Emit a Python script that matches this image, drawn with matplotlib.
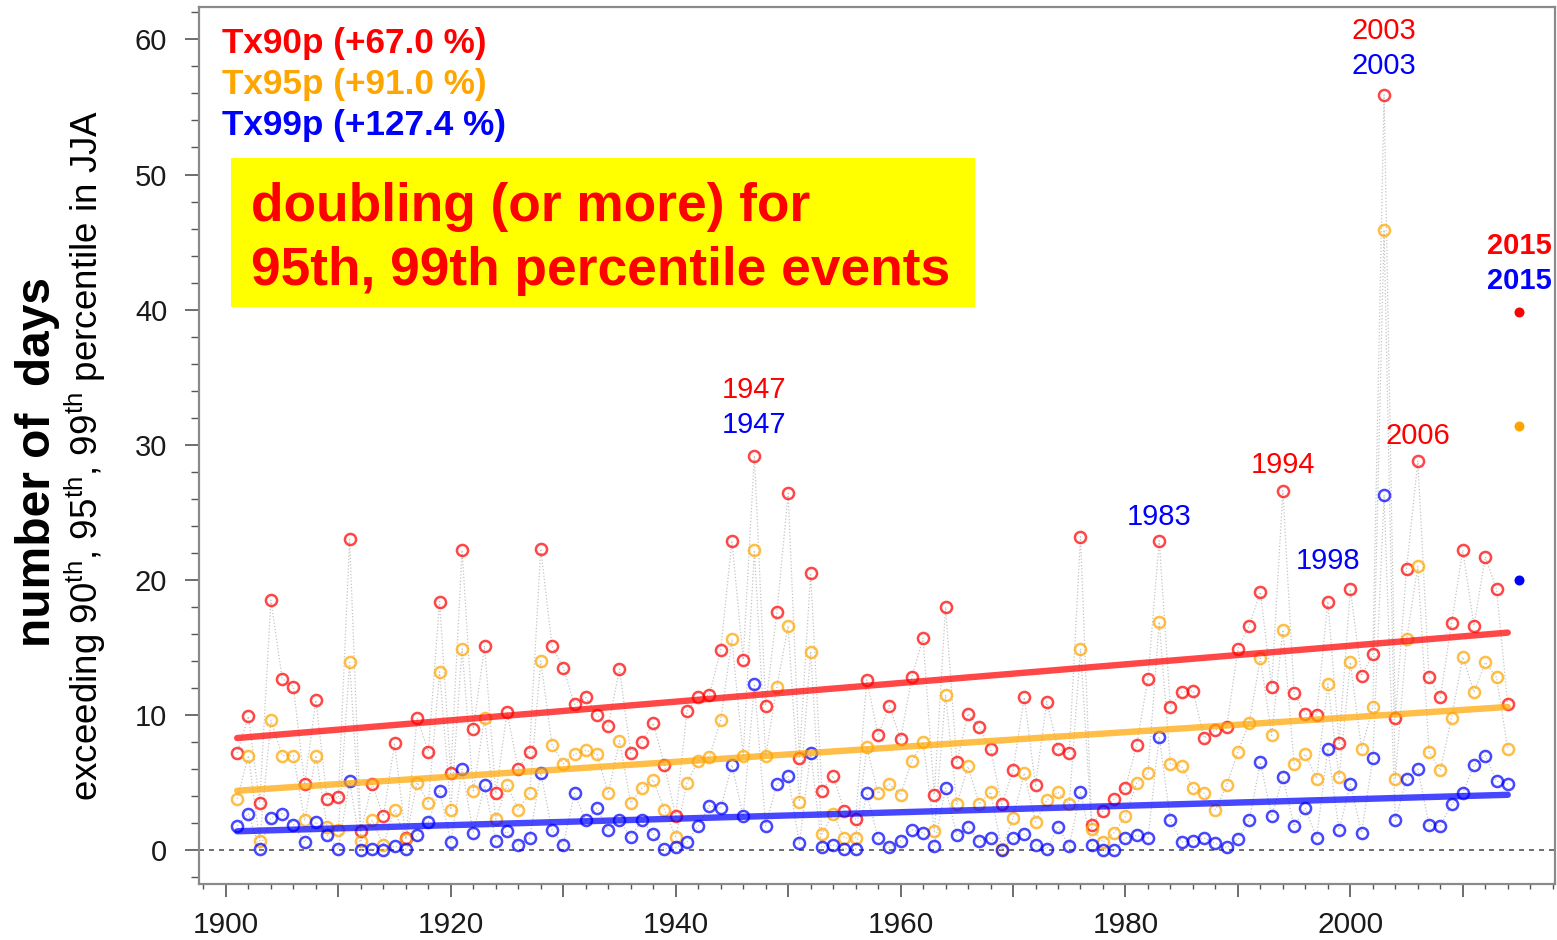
import matplotlib
matplotlib.use('Agg')
import matplotlib.pyplot as plt
from matplotlib.patches import Rectangle
from matplotlib.ticker import MultipleLocator
import numpy as np

plt.rcParams['font.family'] = ['Liberation Sans', 'DejaVu Sans']
plt.rcParams['mathtext.default'] = 'regular'

# JJA days above the 90th / 95th / 99th percentile of Tmax, 1901-2014
years = np.arange(1901, 2015)

tx90p = [
    7.2, 9.9, 3.5, 18.5, 12.7, 12.1, 4.9, 11.1, 3.8, 3.9,
    23.0, 1.4, 4.9, 2.5, 7.9, 0.9, 9.8, 7.3, 18.4, 5.7,
    22.2, 9.0, 15.1, 4.2, 10.2, 6.0, 7.3, 22.3, 15.1, 13.5,
    10.8, 11.3, 10.0, 9.2, 13.4, 7.2, 8.0, 9.4, 6.3, 2.5,
    10.3, 11.3, 11.5, 14.8, 22.9, 14.1, 29.2, 10.7, 17.6, 26.4,
    6.8, 20.5, 4.4, 5.5, 2.9, 2.3, 12.6, 8.5, 10.7, 8.2,
    12.8, 15.7, 4.1, 18.0, 6.5, 10.1, 9.1, 7.5, 3.4, 5.9,
    11.3, 4.8, 11.0, 7.5, 7.2, 23.2, 1.9, 2.9, 3.8, 4.6,
    7.8, 12.7, 22.9, 10.6, 11.7, 11.8, 8.3, 8.9, 9.1, 14.9,
    16.6, 19.1, 12.1, 26.6, 11.6, 10.1, 10.0, 18.4, 7.9, 19.3,
    12.9, 14.5, 55.9, 9.8, 20.8, 28.8, 12.8, 11.3, 16.8, 22.2,
    16.6, 21.7, 19.3, 10.8,
]

tx95p = [
    3.8, 7.0, 0.7, 9.6, 7.0, 7.0, 2.2, 7.0, 1.7, 1.5,
    13.9, 0.7, 2.2, 0.4, 3.0, 0.8, 5.0, 3.5, 13.2, 3.0,
    14.9, 4.4, 9.8, 2.3, 4.8, 3.0, 4.2, 14.0, 7.8, 6.4,
    7.1, 7.4, 7.1, 4.2, 8.1, 3.5, 4.6, 5.2, 3.0, 1.0,
    5.0, 6.6, 6.9, 9.6, 15.6, 7.0, 22.2, 7.0, 12.1, 16.6,
    3.6, 14.7, 1.2, 2.7, 0.9, 0.9, 7.6, 4.2, 4.9, 4.1,
    6.6, 8.0, 1.4, 11.5, 3.4, 6.2, 3.4, 4.3, 0.1, 2.4,
    5.7, 2.1, 3.7, 4.3, 3.4, 14.9, 1.6, 0.6, 1.3, 2.5,
    5.0, 5.7, 16.9, 6.4, 6.2, 4.6, 4.2, 3.0, 4.8, 7.3,
    9.4, 14.2, 8.5, 16.3, 6.4, 7.1, 5.3, 12.3, 5.4, 13.9,
    7.5, 10.6, 45.9, 5.3, 15.6, 21.0, 7.3, 5.9, 9.8, 14.3,
    11.7, 13.9, 12.8, 7.5,
]

tx99p = [
    1.8, 2.7, 0.1, 2.4, 2.7, 1.9, 0.6, 2.1, 1.1, 0.1,
    5.1, 0.0, 0.1, 0.0, 0.3, 0.1, 1.1, 2.1, 4.4, 0.6,
    6.0, 1.3, 4.8, 0.7, 1.4, 0.4, 0.9, 5.7, 1.5, 0.4,
    4.2, 2.2, 3.1, 1.5, 2.2, 1.0, 2.2, 1.2, 0.1, 0.2,
    0.6, 1.8, 3.3, 3.1, 6.3, 2.5, 12.3, 1.8, 4.9, 5.5,
    0.5, 7.2, 0.2, 0.4, 0.1, 0.1, 4.2, 0.9, 0.2, 0.7,
    1.5, 1.3, 0.3, 4.6, 1.1, 1.7, 0.7, 0.9, 0.0, 0.9,
    1.2, 0.4, 0.1, 1.7, 0.3, 4.3, 0.4, 0.0, 0.0, 0.9,
    1.1, 0.9, 8.4, 2.2, 0.6, 0.7, 0.9, 0.5, 0.2, 0.8,
    2.2, 6.5, 2.5, 5.4, 1.8, 3.1, 0.9, 7.5, 1.5, 4.9,
    1.3, 6.8, 26.3, 2.2, 5.3, 6.0, 1.9, 1.8, 3.4, 4.2,
    6.3, 7.0, 5.1, 4.9,
]

# trend line values at 1901 and 2014 for each index
trend_start = [8.3, 4.4, 1.4]
trend_end = [16.1, 10.6, 4.1]

# provisional 2015 values
year_2015 = 2015
tx2015 = [39.8, 31.4, 20.0]

series_names = ['Tx90p', 'Tx95p', 'Tx99p']
series_change = ['+67.0 %', '+91.0 %', '+127.4 %']
series_colors = ['#ff0000', '#ffa500', '#0000ff']

# year labels above notable summers: (year, anchor value, colour index, bold, offset in pt)
year_labels = [
    (1947, 29.2, 0, False, 47.0), (1947, 29.2, 2, False, 22.0),
    (2003, 55.9, 0, False, 46.0), (2003, 55.9, 2, False, 21.0),
    (1983, 22.9, 2, False, 17.3), (1994, 26.6, 0, False, 18.7),
    (1998, 18.4, 2, False, 29.5), (2006, 28.8, 0, False, 18.0),
    (2015, 39.8, 0, True, 47.5), (2015, 39.8, 2, True, 22.3),
]

fig = plt.figure(figsize=(15.57, 9.40), dpi=100)
ax = fig.add_axes([0.128, 0.0596, 0.8707, 0.933])

all_series = [tx90p, tx95p, tx99p]

# thin dotted lines joining consecutive years
for vals in all_series:
    ax.plot(years, vals, linestyle=(0, (1, 1.6)), color='#c4c4c4', lw=0.9, zorder=2)

for i, (vals, col) in enumerate(zip(all_series, series_colors)):
    ax.plot(years, vals, linestyle='none', marker='o', ms=8, mfc='none',
            mec=col, mew=1.8, alpha=0.72, zorder=4)
    ax.plot([years[0], years[-1]], [trend_start[i], trend_end[i]], color=col,
            lw=4.6, alpha=0.72, solid_capstyle='round', zorder=5)

for val, col in zip(tx2015, series_colors):
    ax.plot(year_2015, val, linestyle='none', marker='o', ms=7.2, color=col,
            mec='none', zorder=6)

ax.axhline(0, color='#555555', lw=1.2, linestyle=(0, (3, 3)), zorder=1)

for yr, val, ci, bold, off in year_labels:
    ax.annotate(str(yr), xy=(yr, val), xytext=(0, off), textcoords='offset points',
                ha='center', va='center', fontsize=21, color=series_colors[ci],
                fontweight='bold' if bold else 'normal', zorder=7)

# legend-like labels with the trend change
for i, (name, chg, col) in enumerate(zip(series_names, series_change, series_colors)):
    ax.text(0.0167, 0.958 - i * 0.0463, f'{name} ({chg})', transform=ax.transAxes,
            ha='left', va='center', fontsize=25.3, fontweight='bold', color=col)

ax.add_patch(Rectangle((0.0234, 0.658), 0.5488, 0.170, transform=ax.transAxes,
                       facecolor='#ffff00', edgecolor='none', zorder=3))
ax.text(0.0381, 0.772, 'doubling (or more) for', transform=ax.transAxes,
        ha='left', va='center', fontsize=38.3, fontweight='bold', color='#ff0000', zorder=8)
ax.text(0.0381, 0.699, '95th, 99th percentile events', transform=ax.transAxes,
        ha='left', va='center', fontsize=38.3, fontweight='bold', color='#ff0000', zorder=8)

ax.set_xlim(1897.63, 2018.2)
ax.set_ylim(-2.5, 62.4)

ax.set_xticks(np.arange(1900, 2020, 10))
ax.set_xticklabels([str(y) if y % 20 == 0 else '' for y in range(1900, 2020, 10)])
ax.xaxis.set_minor_locator(MultipleLocator(2))
ax.set_yticks(np.arange(0, 70, 10))
ax.yaxis.set_minor_locator(MultipleLocator(2))

ax.tick_params(axis='x', which='major', direction='out', length=9.4, width=1.2,
               color='#555555', pad=10, labelsize=21.5, labelcolor='#1a1a1a')
ax.tick_params(axis='x', which='minor', direction='out', length=3.8, width=1.0,
               color='#555555')
ax.tick_params(axis='y', which='major', direction='out', length=10, width=1.2,
               color='#555555', pad=13, labelsize=21, labelcolor='#1a1a1a')
ax.tick_params(axis='y', which='minor', direction='out', length=5.8, width=1.0,
               color='#555555')

for side in ['left', 'right', 'top', 'bottom']:
    ax.spines[side].set_color('#8a8a8a')
    ax.spines[side].set_linewidth(1.6)

fig.text(0.0244, 0.509, 'number of  days', rotation=90, ha='center', va='center',
         fontsize=34.5, fontweight='bold', color='black')
fig.text(0.0546, 0.516,
         'exceeding 90$^{th}$, 95$^{th}$, 99$^{th}$ percentile in JJA',
         rotation=90, ha='center', va='center', fontsize=26.5, color='black')

fig.savefig('out.png', dpi=100)
plt.close(fig)
